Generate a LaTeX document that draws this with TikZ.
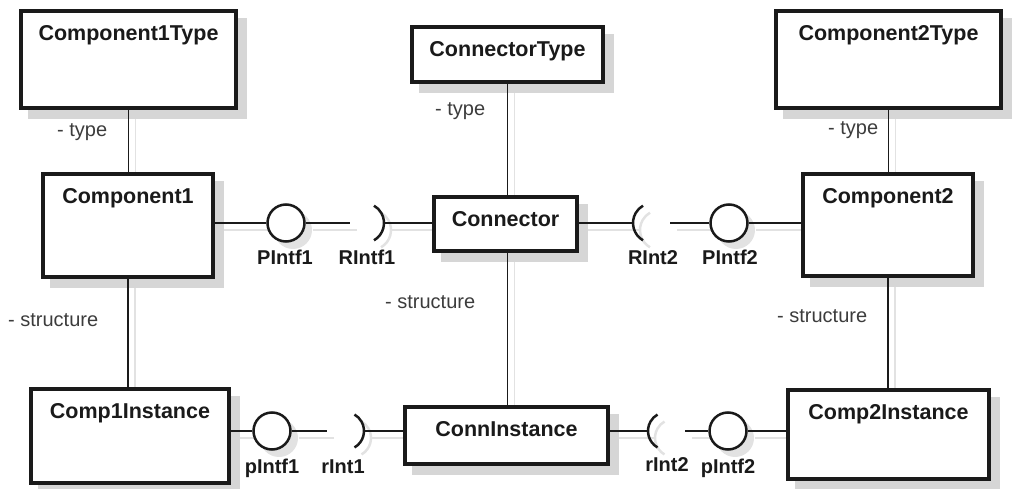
\documentclass[tikz,border=0pt]{standalone}
\usepackage{fontspec}
\setmainfont{Liberation Sans}
\pgfdeclarelayer{background}
\pgfsetlayers{background,main}
\definecolor{ink}{HTML}{1A1A1A}
\definecolor{shad}{HTML}{D6D6D6}
\definecolor{lshad}{HTML}{E2E2E2}
\newcommand{\mylinks}{%
  \draw[link] (c1t.south) -- (c1t.south |- c1.north);
  \draw[link] (c1.south) -- (c1.south |- ci1.north);
  \draw[link] (ct.south) -- (ct.south |- con.north);
  \draw[link] (con.south -| ct.south) -- (cin.north -| ct.south);
  \draw[link] (c2t.south) -- (c2t.south |- c2.north);
  \draw[link] (c2.south) -- (c2.south |- ci2.north);
  % top row
  \draw[link] (c1.east |- p1) -- (p1);
  \draw[link] (p1) -- (g1);
  \draw[sock] ([shift={(60:20)}]r1) arc[start angle=60,end angle=-60,radius=20];
  \draw[link] ([xshift=20pt]r1) -- (con.west |- r1);
  \draw[link] (con.east |- r2) -- ([xshift=-20pt]r2);
  \draw[sock] ([shift={(120:20)}]r2) arc[start angle=120,end angle=240,radius=20];
  \draw[link] (g2) -- (p2);
  \draw[link] (p2) -- (c2.west |- p2);
  % bottom row
  \draw[link] (ci1.east |- pb1) -- (pb1);
  \draw[link] (pb1) -- (gb1);
  \draw[sock] ([shift={(60:19)}]rb1) arc[start angle=60,end angle=-60,radius=19];
  \draw[link] ([xshift=19pt]rb1) -- (cin.west |- rb1);
  \draw[link] (cin.east |- rb2) -- ([xshift=-19pt]rb2);
  \draw[sock] ([shift={(120:19)}]rb2) arc[start angle=120,end angle=240,radius=19];
  \draw[link] (gb2) -- (pb2);
  \draw[link] (pb2) -- (ci2.west |- pb2);
}
\begin{document}
\begin{tikzpicture}[x=1pt,y=-1pt,
  tt/.style={font=\fontsize{20}{24}\selectfont\bfseries, text=ink, inner sep=0pt},
  title/.style={font=\fontsize{21.5}{26}\selectfont\bfseries, text=ink, inner sep=0pt},
  role/.style={font=\fontsize{20}{24}\selectfont, text=ink!85, inner sep=0pt},
  box/.style={draw=ink, line width=3.5pt, fill=white, inner sep=0pt},
  ball/.style={circle, draw=ink, line width=2.5pt, fill=white, inner sep=0pt, minimum size=37pt},
  link/.style={draw=ink, line width=1.8pt},
  sock/.style={draw=ink, line width=2.5pt},
  ttl/.style={label={[title,anchor=base,yshift=-31pt]north:#1}}
]
\useasboundingbox (0,0) rectangle (1015,489);
% boxes
\node[box, minimum width=215pt, minimum height=97pt, ttl=Component1Type] (c1t) at (128.5,59.5) {};
\node[box, minimum width=191pt, minimum height=55pt, ttl=ConnectorType] (ct) at (507.5,54.5) {};
\node[box, minimum width=225pt, minimum height=97pt, ttl=Component2Type] (c2t) at (888.5,59.5) {};
\node[box, minimum width=170pt, minimum height=103pt, ttl=Component1] (c1) at (128,225.5) {};
\node[box, minimum width=143pt, minimum height=54pt, ttl=Connector] (con) at (505.5,224) {};
\node[box, minimum width=170pt, minimum height=102pt, ttl=Component2] (c2) at (888,225) {};
\node[box, minimum width=198pt, minimum height=94pt, ttl=Comp1Instance] (ci1) at (130,436) {};
\node[box, minimum width=203pt, minimum height=57pt, ttl=ConnInstance] (cin) at (506.5,435.5) {};
\node[box, minimum width=201pt, minimum height=89pt, ttl=Comp2Instance] (ci2) at (888.5,434.5) {};
% interfaces
\node[ball] (p1) at (286,223) {};
\coordinate (g1) at (350,223);
\coordinate (r1) at (364,223);
\coordinate (r2) at (653,223);
\coordinate (g2) at (670,223);
\node[ball] (p2) at (729,223) {};
\node[ball] (pb1) at (272,431) {};
\coordinate (gb1) at (327,431);
\coordinate (rb1) at (345,431);
\coordinate (rb2) at (667,431);
\coordinate (gb2) at (685,431);
\node[ball] (pb2) at (728,431) {};
% shadows
\begin{pgfonlayer}{background}
\begin{scope}[transform canvas={xshift=7pt,yshift=-7pt},
  link/.style={draw=lshad, line width=1.8pt}, sock/.style={draw=lshad, line width=2.5pt}]
\mylinks
\foreach \b in {p1,p2,pb1,pb2} \fill[lshad] (\b) circle[radius=19];
\end{scope}
\begin{scope}[transform canvas={xshift=9pt,yshift=-9pt}]
\foreach \n in {c1t,ct,c2t,c1,con,c2,ci1,cin,ci2}
  \fill[shad] (\n.south west) rectangle (\n.north east);
\end{scope}
\end{pgfonlayer}
\mylinks
% interface labels
\node[tt, anchor=base] (lp1) at (285,265) {PIntf1};
\node[tt, anchor=base] (lr1) at (367,265) {RIntf1};
\node[tt, anchor=base] (lr2) at (653,265) {RInt2};
\node[tt, anchor=base] (lp2) at (730,265) {PIntf2};
\node[tt, anchor=base] (lpb1) at (272,473) {pIntf1};
\node[tt, anchor=base] (lrb1) at (343,473) {rInt1};
\node[tt, anchor=base] (lrb2) at (667,471) {rInt2};
\node[tt, anchor=base] (lpb2) at (728,473) {pIntf2};
% role labels
\node[role, anchor=base west] (ty1) at (57,137) {- type};
\node[role, anchor=base west] (ty2) at (435,116) {- type};
\node[role, anchor=base west] (ty3) at (828,135) {- type};
\node[role, anchor=base west] (st1) at (8,326) {- structure};
\node[role, anchor=base west] (st2) at (385,308) {- structure};
\node[role, anchor=base west] (st3) at (777,322) {- structure};
\end{tikzpicture}
\end{document}
